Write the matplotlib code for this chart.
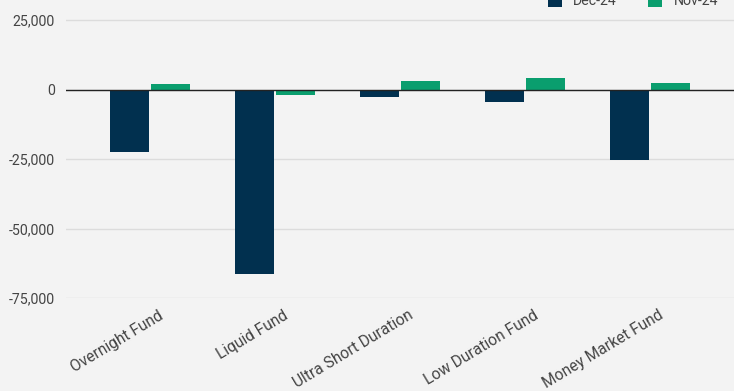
import numpy as np
import matplotlib
matplotlib.use("Agg")
import matplotlib.pyplot as plt
import matplotlib.ticker as mticker
import matplotlib.transforms as mtransforms

plt.rcParams['font.family'] = ['Roboto', 'DejaVu Sans']

categories = ["Overnight Fund", "Liquid Fund", "Ultra Short Duration",
              "Low Duration Fund", "Money Market Fund"]
dec_24 = [-22300, -66200, -2700, -4500, -25500]
nov_24 = [2000, -1800, 2900, 4300, 2500]

bg = "#f3f3f3"
navy = "#01304f"
green = "#0a9e6e"

fig = plt.figure(figsize=(7.34, 3.91), dpi=100, facecolor=bg)
ax = fig.add_axes([66 / 734, 1 - 298 / 391, 668 / 734, 298 / 391])
ax.set_facecolor(bg)

x = np.arange(len(categories))
w = 0.312
ax.bar(x - w / 2 - 0.008, dec_24, width=w, color=navy, label="Dec-24", zorder=3)
ax.bar(x + w / 2 + 0.008, nov_24, width=w, color=green, label="Nov-24", zorder=3)

ax.set_xlim(-0.672, 4.672)
ax.set_ylim(-75000, 32200)
ax.set_yticks([25000, 0, -25000, -50000, -75000])
ax.yaxis.set_major_formatter(mticker.FuncFormatter(lambda v, p: f"{int(v):,}"))
ax.grid(axis="y", color="#dcdcdc", linewidth=1, zorder=0)
ax.axhline(0, color="#222222", linewidth=1, zorder=4)

for s in ax.spines.values():
    s.set_visible(False)
ax.tick_params(axis="y", length=0, labelsize=10.2, colors="#444444", pad=8)
ax.set_xticks(x)
ax.set_xticklabels(categories, rotation=31, ha="right", rotation_mode="anchor")
ax.tick_params(axis="x", length=0, labelsize=11.2, colors="#444444", pad=7)
shift = mtransforms.ScaledTranslation(8 / 100, 0, fig.dpi_scale_trans)
for lab in ax.get_xticklabels():
    lab.set_transform(lab.get_transform() + shift)

fig.legend(loc="center", bbox_to_anchor=(633 / 734, 1 - 1 / 391), ncol=2,
           frameon=False, fontsize=10.2, labelcolor="#444444",
           handlelength=1.0, handleheight=1.0, columnspacing=2.2)

fig.savefig("out.png", dpi=100, facecolor=bg)
